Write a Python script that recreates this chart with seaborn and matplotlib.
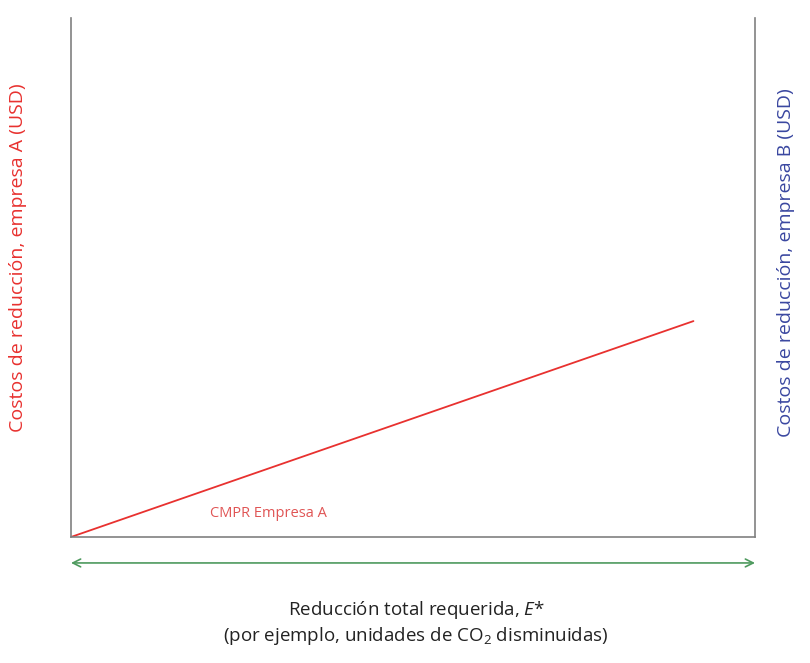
import numpy as np
import pandas as pd
import matplotlib
matplotlib.use('Agg')
import matplotlib.pyplot as plt
import seaborn as sns

# data (axis units 0-10)
line_x = [0, 9.1]
line_y = [0, 4.16]
curve_label = "CMPR Empresa A"
xlabel = "Reducción total requerida, $E$*\n(por ejemplo, unidades de CO$_2$ disminuidas)"
ylabel_left = "Costos de reducción, empresa A (USD)"
ylabel_right = "Costos de reducción, empresa B (USD)"

sns.set_style("white")
plt.rcParams['font.family'] = ['Open Sans', 'DejaVu Sans']
plt.rcParams['mathtext.fontset'] = 'custom'
plt.rcParams['mathtext.rm'] = 'Open Sans'
plt.rcParams['mathtext.it'] = 'Open Sans:italic'

red = '#e8312f'
blue = '#3a47a0'
green = '#4e9a5e'
grey = '#808080'

fig = plt.figure(figsize=(8.1, 6.63), dpi=100)
ax = fig.add_axes([71/810, 1 - 537/663, 684/810, 519/663])

df = pd.DataFrame({'x': line_x, 'y': line_y})
sns.lineplot(data=df, x='x', y='y', ax=ax, color=red, linewidth=1.3)
ax.text(2.03, 0.46, curve_label, color='#e05555', fontsize=10.5, va='center', ha='left')

ax.set_xlim(0, 10)
ax.set_ylim(0, 10)
ax.set_xticks([])
ax.set_yticks([])
ax.set_xlabel('')
ax.set_ylabel('')
for s in ['left', 'right', 'bottom']:
    ax.spines[s].set_color(grey)
    ax.spines[s].set_linewidth(1.2)
ax.spines['top'].set_visible(False)

# green double arrow under the axis
ax.annotate('', xy=(0, -0.5), xytext=(10, -0.5), xycoords='data',
            arrowprops=dict(arrowstyle='<->', color=green, lw=1.2,
                            shrinkA=0, shrinkB=0, mutation_scale=14),
            annotation_clip=False)

fig.text(416/810, 1 - 623/663, xlabel, ha='center', va='center',
         fontsize=13.5, linespacing=1.3, color='#222222')
fig.text(18/810, 1 - 258/663, ylabel_left, rotation=90, ha='center', va='center',
         color=red, fontsize=14)
fig.text(786/810, 1 - 263/663, ylabel_right, rotation=90, ha='center', va='center',
         color=blue, fontsize=14)

fig.savefig('out.png', dpi=100)
